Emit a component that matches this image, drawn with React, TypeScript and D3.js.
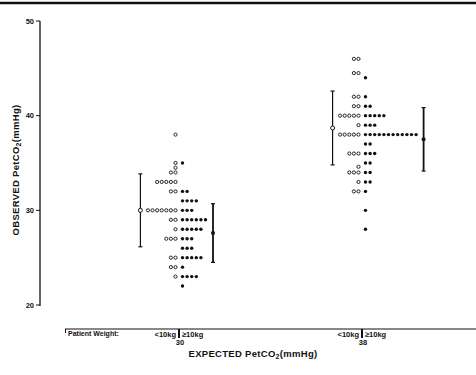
import React from 'react';
import * as d3 from 'd3';

// expected PetCO2 groups (x categories) and weight classes
const expected = ['30', '38'];
const weightLabels = ['<10kg', '\u226510kg'];
const yTicks = [20, 30, 40, 50];

// dot histograms: [observed PetCO2, number of patients]
const under30: [number, number][] = [
  [38, 1], [35, 1], [34.5, 1], [34, 2], [33, 5], [32, 2], [30, 7],
  [29, 2], [28, 1], [27, 3], [25, 2], [24, 2], [23, 1],
];
const over30: [number, number][] = [
  [35, 1], [32, 2], [31, 4], [30, 3], [29, 6], [28, 5], [27, 3],
  [26, 3], [25, 5], [24, 1], [23, 4], [22, 1],
];
const under38: [number, number][] = [
  [46, 2], [44.5, 2], [42, 2], [41, 2], [40, 5], [39, 1], [38, 5],
  [36, 3], [34.6, 1], [34, 3], [33, 1], [32, 2],
];
const over38: [number, number][] = [
  [44, 1], [42, 1], [41, 2], [40, 5], [39, 3], [38, 12], [37, 2],
  [36, 3], [35, 2], [34, 2], [33, 2], [32, 1], [30, 1], [28, 1],
];

// mean and SD per group
const meanUnder = [30.0, 38.7];
const sdUnder = [3.85, 3.9];
const meanOver = [27.6, 37.5];
const sdOver = [3.1, 3.35];

const W = 476;
const H = 375;
const font = "'Liberation Sans', Arial, sans-serif";
const ink = '#111';

const y = d3.scaleLinear().domain([20, 50]).range([305, 21]);
const x = d3.scalePoint<string>().domain(expected).range([65, 476]).padding(0.623);

const step = 4.6;
const gap = 3.5;
const barOffset = 7.5;

function expand(rows: [number, number][], side: number, cx: number) {
  const pts: { cx: number; cy: number }[] = [];
  rows.forEach(([v, n]) => {
    for (let i = 0; i < n; i++) {
      pts.push({ cx: cx + side * (gap + i * step), cy: y(v) });
    }
  });
  return pts;
}

function ErrorBar({ cx, mean, sd, open }: { cx: number; mean: number; sd: number; open: boolean }) {
  const top = y(mean + sd);
  const bot = y(mean - sd);
  return (
    <g>
      <line x1={cx} x2={cx} y1={top} y2={bot} stroke={ink} strokeWidth={open ? 1.2 : 1.8} />
      <line x1={cx - 2} x2={cx + 2} y1={top} y2={top} stroke={ink} strokeWidth={1.2} />
      <line x1={cx - 2} x2={cx + 2} y1={bot} y2={bot} stroke={ink} strokeWidth={1.2} />
      {open ? (
        <circle cx={cx} cy={y(mean)} r={2} fill="#fff" stroke={ink} strokeWidth={1} />
      ) : (
        <circle cx={cx} cy={y(mean)} r={2} fill={ink} />
      )}
    </g>
  );
}

export default function App() {
  const groups = [
    { key: '30', under: under30, over: over30 },
    { key: '38', under: under38, over: over38 },
  ];
  const axisY = 329;

  return (
    <svg width={W} height={H} style={{ position: 'absolute', left: 0, top: 0, background: '#fff' }} fontFamily={font}>
      <rect width={W} height={H} fill="#fff" />
      {/* page rule at the top */}
      <line x1={0} x2={W} y1={3} y2={3} stroke={ink} strokeWidth={2.5} />

      {/* y axis */}
      <line x1={40} x2={40} y1={y(50)} y2={y(20) + 1} stroke={ink} strokeWidth={1.3} />
      {yTicks.map(t => (
        <g key={t}>
          <line x1={36} x2={40} y1={y(t)} y2={y(t)} stroke={ink} strokeWidth={1} />
          <text x={34} y={y(t)} dy="0.35em" textAnchor="end" fontSize={7.5} fontWeight="bold" fill={ink}>
            {t}
          </text>
        </g>
      ))}
      <text transform="translate(19,170) rotate(-90)" textAnchor="middle" fontSize={9.5} fontWeight="bold" fill={ink} letterSpacing={0.3}>
        OBSERVED PetCO<tspan fontSize={7} dy={2}>2</tspan><tspan dy={-2}>(mmHg)</tspan>
      </text>

      {/* x axis */}
      <line x1={65} x2={W} y1={axisY} y2={axisY} stroke={ink} strokeWidth={1} />
      <line x1={65.5} x2={65.5} y1={axisY} y2={axisY + 4} stroke={ink} strokeWidth={1} />
      <text x={68} y={axisY + 7} fontSize={7} fontWeight="bold" fill={ink}>Patient Weight:</text>
      {expected.map(e => {
        const cx = x(e)!;
        return (
          <g key={e}>
            <line x1={cx} x2={cx} y1={axisY} y2={axisY + 9} stroke={ink} strokeWidth={2} />
            <text x={cx - 3} y={axisY + 8} textAnchor="end" fontSize={7.5} fontWeight="bold" fill={ink}>{weightLabels[0]}</text>
            <text x={cx + 3} y={axisY + 8} textAnchor="start" fontSize={7.5} fontWeight="bold" fill={ink}>{weightLabels[1]}</text>
            <text x={cx + 1} y={axisY + 16} textAnchor="middle" fontSize={7.5} fontWeight="bold" fill={ink}>{e}</text>
          </g>
        );
      })}
      <text x={253} y={357} textAnchor="middle" fontSize={9.5} fontWeight="bold" fill={ink} letterSpacing={0.3}>
        EXPECTED PetCO<tspan fontSize={7} dy={2}>2</tspan><tspan dy={-2}>(mmHg)</tspan>
      </text>

      {/* dots and error bars */}
      {groups.map((g, gi) => {
        const cx = x(g.key)!;
        const openPts = expand(g.under, -1, cx);
        const fillPts = expand(g.over, 1, cx);
        const maxU = d3.max(g.under, d => d[1])!;
        const maxO = d3.max(g.over, d => d[1])!;
        const barU = cx - (gap + (maxU - 1) * step + barOffset);
        const barO = cx + (gap + (maxO - 1) * step + barOffset);
        return (
          <g key={g.key}>
            {openPts.map((p, i) => (
              <circle key={'o' + i} cx={p.cx} cy={p.cy} r={1.6} fill="#fff" stroke={ink} strokeWidth={0.9} />
            ))}
            {fillPts.map((p, i) => (
              <circle key={'f' + i} cx={p.cx} cy={p.cy} r={1.7} fill={ink} />
            ))}
            <ErrorBar cx={barU} mean={meanUnder[gi]} sd={sdUnder[gi]} open={true} />
            <ErrorBar cx={barO} mean={meanOver[gi]} sd={sdOver[gi]} open={false} />
          </g>
        );
      })}
    </svg>
  );
}
